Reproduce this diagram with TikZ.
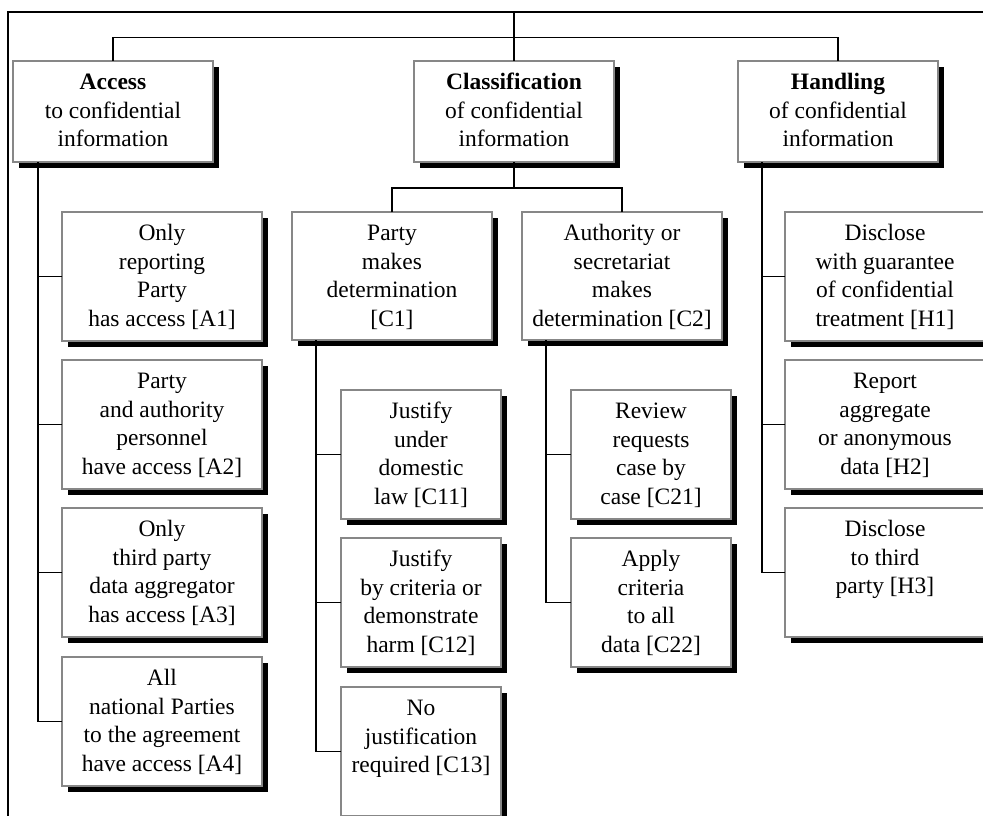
\documentclass[tikz,border=0pt]{standalone}
\usepackage{fontspec}
\setmainfont{Liberation Serif}
\usetikzlibrary{shadows,calc}
\tikzset{
  tbox/.style={draw=black!47, line width=1.6pt, fill=white, inner sep=0pt, outer sep=0pt,
    drop shadow={shadow xshift=6pt, shadow yshift=-6pt, fill=black, opacity=1}},
  conn/.style={draw=black, line width=1.7pt},
  frame/.style={draw=black, line width=1.8pt},
  btext/.style={anchor=base, inner sep=0pt, outer sep=0pt, font=\fontsize{23.5}{28.5}\selectfont}
}
\newcommand\mkbox[6]{%
  \node[tbox, minimum width=#4pt, minimum height=#5pt, anchor=north west] (#1) at (#2,#3) {};
  \node[btext] (#1t) at ([yshift=-28.5pt]#1.north) {\parbox[t]{#4pt}{\centering #6}};
}
\begin{document}
\begin{tikzpicture}[x=1pt,y=-1pt]
\useasboundingbox (0,0) rectangle (983,816);
\clip (0,0) rectangle (983,816);
\draw[frame] (8,12) rectangle (1000,840);

\mkbox{Acc}{13}{61}{200}{101}{\textbf{Access}\\to confidential\\information}
\mkbox{Cls}{414}{61}{200}{101}{\textbf{Classification}\\of confidential\\information}
\mkbox{Hnd}{738}{61}{200}{101}{\textbf{Handling}\\of confidential\\information}

\mkbox{A1}{62}{212}{200}{129}{Only\\reporting\\Party\\has access [A1]}
\mkbox{A2}{62}{360}{200}{129}{Party\\and authority\\personnel\\have access [A2]}
\mkbox{A3}{62}{508}{200}{129}{Only\\third party\\data aggregator\\has access [A3]}
\mkbox{A4}{62}{657}{200}{129}{All\\national Parties\\to the agreement\\have access [A4]}

\mkbox{C1}{292}{212}{200}{128}{Party\\makes\\determination\\{[C1]}}
\mkbox{C2}{522}{212}{200}{128}{Authority or\\secretariat\\makes\\determination [C2]}

\mkbox{C11}{341}{390}{160}{129}{Justify\\under\\domestic\\law [C11]}
\mkbox{C12}{341}{538}{160}{129}{Justify\\by criteria or\\demonstrate\\harm [C12]}
\mkbox{C13}{341}{687}{160}{129}{No\\justification\\required [C13]}

\mkbox{C21}{571}{390}{160}{129}{Review\\requests\\case by\\case [C21]}
\mkbox{C22}{571}{538}{160}{129}{Apply\\criteria\\to all\\data [C22]}

\mkbox{H1}{785}{212}{200}{129}{Disclose\\with guarantee\\of confidential\\treatment [H1]}
\mkbox{H2}{785}{360}{200}{129}{Report\\aggregate\\or anonymous\\data [H2]}
\mkbox{H3}{785}{508}{200}{129}{Disclose\\to third\\party [H3]}

% top level
\coordinate (root) at (514,12);
\coordinate (bus) at (514,37.5);
\draw[conn] (root) -- (Cls.north);
\draw[conn] (Acc.north) |- (bus) -| (Hnd.north);

% access children
\coordinate (aL) at ([xshift=24.7pt]Acc.south west);
\draw[conn] (aL) |- (A4.west);
\foreach \n in {A1,A2,A3} \draw[conn] (\n.west) -- (\n.west -| aL);

% classification children
\coordinate (cbus) at ([yshift=-26pt]Cls.south);
\draw[conn] (Cls.south) -- (cbus);
\draw[conn] (C1.north) |- (cbus) -| (C2.north);

\coordinate (c1L) at ([xshift=24pt]C1.south west);
\draw[conn] (c1L) |- (C13.west);
\foreach \n in {C11,C12} \draw[conn] (\n.west) -- (\n.west -| c1L);

\coordinate (c2L) at ([xshift=24pt]C2.south west);
\draw[conn] (c2L) |- (C22.west);
\draw[conn] (C21.west) -- (C21.west -| c2L);

% handling children
\coordinate (hL) at ([xshift=24pt]Hnd.south west);
\draw[conn] (hL) |- (H3.west);
\foreach \n in {H1,H2} \draw[conn] (\n.west) -- (\n.west -| hL);
\end{tikzpicture}
\end{document}
